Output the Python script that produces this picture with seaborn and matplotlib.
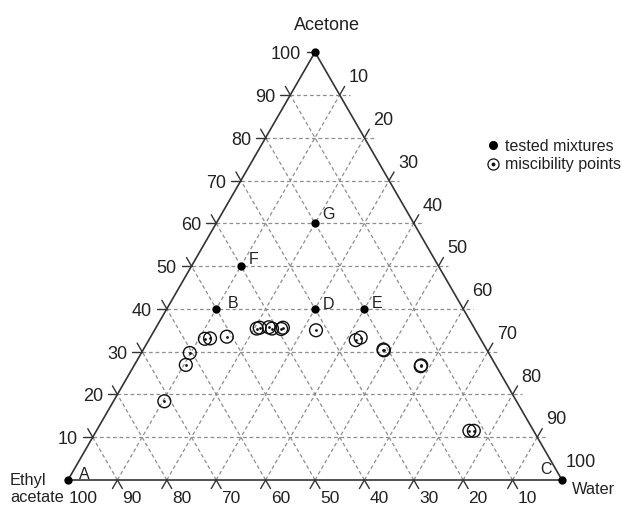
import numpy as np
import pandas as pd
import matplotlib
matplotlib.use("Agg")
import matplotlib.pyplot as plt
import seaborn as sns
from matplotlib.legend_handler import HandlerTuple
from matplotlib.lines import Line2D

# ---------------- data (percentages) ----------------
tested_names = ["A", "B", "C", "D", "E", "F", "G", ""]
tested_acetone = [0, 40, 0, 40, 40, 50, 60, 100]
tested_water = [0, 10, 100, 30, 40, 10, 20, 0]

misc_acetone = [18.4, 26.9, 29.7, 33.0, 33.1, 33.5, 35.4, 35.6, 35.7, 35.4,
                35.3, 35.6, 35.0, 32.7, 33.3, 30.5, 30.3, 26.6, 26.8, 11.5, 11.5]
misc_water = [10.3, 10.4, 9.8, 11.2, 12.2, 15.4, 20.5, 21.0, 22.8, 23.6,
              25.5, 25.7, 32.7, 41.9, 42.6, 48.6, 48.8, 58.1, 58.1, 75.5, 76.4]

tick_values = [10, 20, 30, 40, 50, 60, 70, 80, 90, 100]
legend_labels = ["tested mixtures", "miscibility points"]

# ---------------- helpers ----------------
S3 = np.sqrt(3) / 2


def to_xy(ac, w):
    ac = np.asarray(ac, dtype=float)
    w = np.asarray(w, dtype=float)
    return w + ac / 2.0, ac * S3


tested = pd.DataFrame({"name": tested_names, "acetone": tested_acetone, "water": tested_water})
tested["X"], tested["Y"] = to_xy(tested["acetone"], tested["water"])
misc = pd.DataFrame({"acetone": misc_acetone, "water": misc_water})
misc["X"], misc["Y"] = to_xy(misc["acetone"], misc["water"])

sns.set_style("white")
plt.rcParams["font.family"] = ["Liberation Sans", "DejaVu Sans"]

W_PX, H_PX = 622, 508
fig = plt.figure(figsize=(W_PX / 100, H_PX / 100), dpi=100)
ax = fig.add_axes([0, 0, 1, 1])
PX = 4.94  # pixels per data unit
OX, OY = 68, 480
ax.set_xlim(-OX / PX, (W_PX - OX) / PX)
ax.set_ylim((OY - H_PX) / PX, OY / PX)
ax.axis("off")

grid_kw = dict(color="#8e8e8e", lw=0.9, ls=(0, (3, 2.2)), zorder=1)
edge_kw = dict(color="#333333", lw=1.2, zorder=2, solid_capstyle="butt")
tick_kw = dict(color="#333333", lw=1.0, zorder=2)
L = 2.0  # tick length in data units

# grid lines
for k in tick_values[:-1]:
    # acetone = k (horizontal), extended a bit past the right edge
    x0, y0 = to_xy(k, 0)
    x1, y1 = to_xy(k, 100 - k)
    ax.plot([x0, x1 + L], [y0, y1], **grid_kw)
    # water = k
    x0, y0 = to_xy(0, k)
    x1, y1 = to_xy(100 - k, k)
    ax.plot([x0, x1], [y0, y1], **grid_kw)
    # ethyl acetate = k
    x0, y0 = to_xy(0, 100 - k)
    x1, y1 = to_xy(100 - k, 0)
    ax.plot([x0, x1], [y0, y1], **grid_kw)

# triangle edges
tx, ty = to_xy([0, 0, 100, 0], [0, 100, 0, 0])
ax.plot(tx, ty, **edge_kw)

# ticks
up_left = np.array([-0.5, S3])
up_right = np.array([0.5, S3])
for k in tick_values[:-1]:
    # left edge, acetone = k
    p = np.array(to_xy(k, 0))
    for d in (np.array([-1.0, 0.0]), up_left):
        q = p + L * d
        ax.plot([p[0], q[0]], [p[1], q[1]], **tick_kw)
    # bottom edge, water = k
    p = np.array(to_xy(0, k))
    for d in (-up_right, -up_left):
        q = p + L * d
        ax.plot([p[0], q[0]], [p[1], q[1]], **tick_kw)
    # right edge, water = k
    p = np.array(to_xy(100 - k, k))
    q = p + L * up_right
    ax.plot([p[0], q[0]], [p[1], q[1]], **tick_kw)
# top dash
p = np.array(to_xy(100, 0))
ax.plot([p[0] - 1.6, p[0] - 0.6], [p[1], p[1]], **tick_kw)

# tick labels
fs = 13
for k in tick_values:
    # acetone on the left
    px, py = to_xy(k, 0)
    ax.annotate(str(k), (px, py), xytext=(-10.5, -1.8), textcoords="offset points",
                ha="right", va="center", fontsize=fs, color="#222222")
    # water on the right
    px, py = to_xy(100 - k, k)
    ax.annotate(str(k), (px, py), xytext=(13.7, 12.4), textcoords="offset points",
                ha="center", va="center", fontsize=fs, color="#222222")
    # ethyl acetate on the bottom
    px, py = to_xy(0, 100 - k)
    ax.annotate(str(k), (px, py), xytext=(10.6, -13.6), textcoords="offset points",
                ha="center", va="center", fontsize=12.5, color="#222222")

# markers
sns.scatterplot(data=misc, x="X", y="Y", ax=ax, marker="o", s=85,
                facecolor="none", edgecolor="#111111", linewidth=1.0, zorder=4, legend=False)
sns.scatterplot(data=misc, x="X", y="Y", ax=ax, marker="o", s=4,
                color="#111111", linewidth=0, zorder=5, legend=False)
sns.scatterplot(data=tested, x="X", y="Y", ax=ax, marker="o", s=36,
                color="#000000", linewidth=0, zorder=6, legend=False)

# point letters
letter_offsets = {"A": (11.5, 4.2), "B": (12.2, 3.6), "C": (-11.5, 7.5), "D": (10.0, 2.9),
                  "E": (9.0, 3.6), "F": (9.4, 5.0), "G": (9.4, 6.5)}
for _, r in tested.iterrows():
    if r["name"]:
        ax.annotate(r["name"], (r["X"], r["Y"]), xytext=letter_offsets[r["name"]],
                    textcoords="offset points", ha="center", va="center",
                    fontsize=11.5, color="#222222")

# corner titles
def ftext(x, y, s, size=fs, **kw):
    fig.text(x / W_PX, 1 - y / H_PX, s, fontsize=size, color="#222222", **kw)

ftext(327, 25, "Acetone", ha="center", va="center")
ftext(10, 480, "Ethyl", size=11.8, ha="left", va="center")
ftext(10, 498, "acetate", size=11.8, ha="left", va="center")
ftext(572, 490, "Water", size=11.8, ha="left", va="center")

# legend
h_tested = Line2D([], [], ls="none", marker="o", markersize=5.5, color="#000000")
h_ring = Line2D([], [], ls="none", marker="o", markersize=8, markerfacecolor="none",
                markeredgecolor="#111111", markeredgewidth=0.9)
h_dot = Line2D([], [], ls="none", marker="o", markersize=1.8, color="#111111")
leg = ax.legend([h_tested, (h_ring, h_dot)], legend_labels,
                handler_map={tuple: HandlerTuple(ndivide=1, pad=0)},
                loc="center left", bbox_to_anchor=(486 / W_PX, 1 - 155.5 / H_PX),
                bbox_transform=fig.transFigure, frameon=False, fontsize=11.5,
                handlelength=0.9, handletextpad=0.3, borderpad=0, borderaxespad=0,
                labelspacing=0.2)
for t in leg.get_texts():
    t.set_color("#222222")

fig.savefig("out.png", dpi=100)
